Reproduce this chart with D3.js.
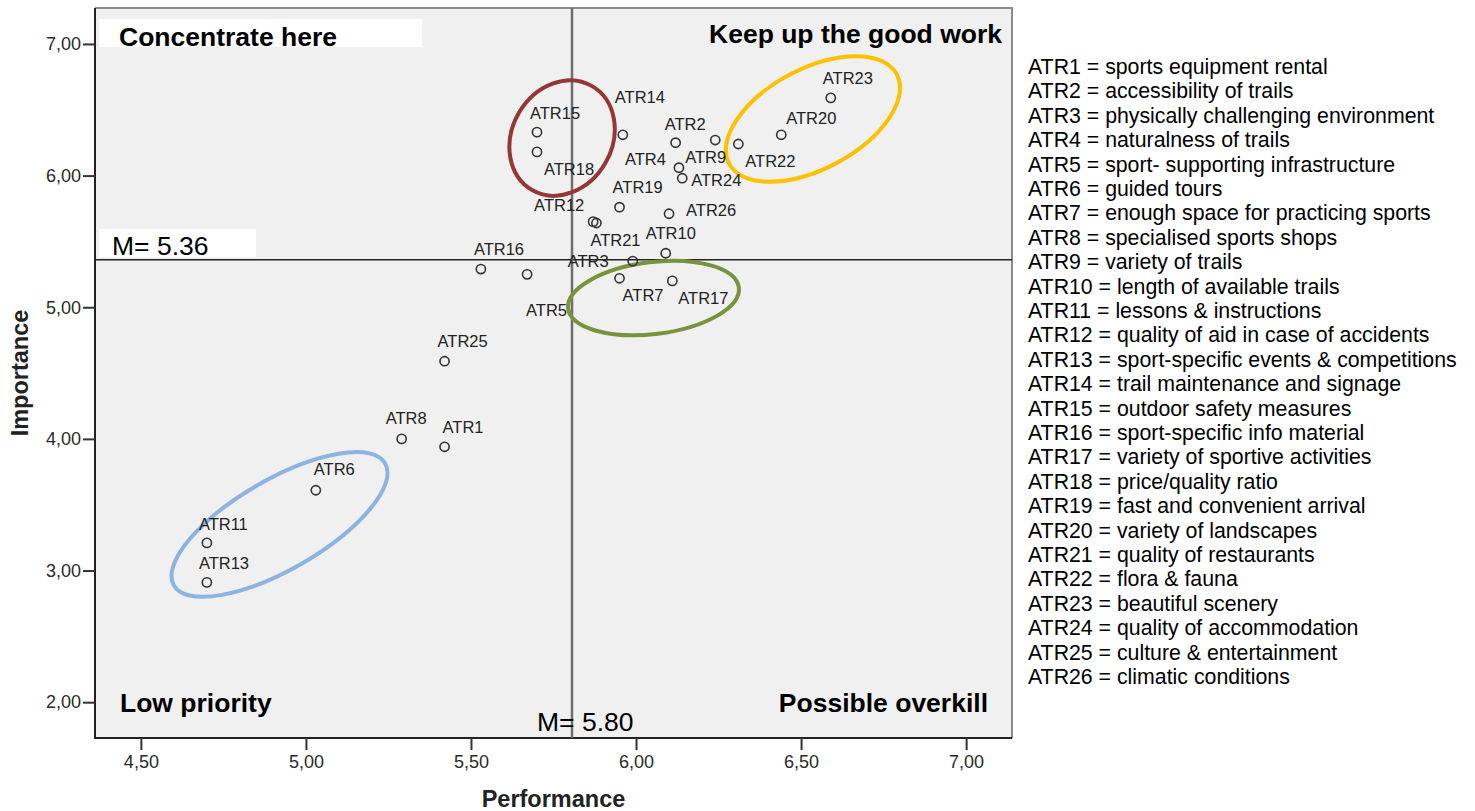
<!DOCTYPE html>
<html lang="en">
<head>
<meta charset="UTF-8">
<script src="https://d3js.org/d3.v7.min.js"></script>
<title>Importance-Performance Analysis</title>
<style>
  body { margin: 0; background: #fff; }
  svg text { font-family: "Liberation Sans", Arial, sans-serif; }
</style>
</head>
<body>
<div id="chart"></div>
<script>
// ---------------- data ----------------
const attributes = ["ATR1","ATR2","ATR3","ATR4","ATR5","ATR6","ATR7","ATR8","ATR9","ATR10","ATR11","ATR12","ATR13",
  "ATR14","ATR15","ATR16","ATR17","ATR18","ATR19","ATR20","ATR21","ATR22","ATR23","ATR24","ATR25","ATR26"];
const performance = [5.42, 6.12, 5.99, 6.13, 5.67, 5.03, 5.95, 5.29, 6.24, 6.09, 4.70, 5.87, 4.70,
  5.96, 5.70, 5.53, 6.11, 5.70, 5.95, 6.44, 5.88, 6.31, 6.59, 6.14, 5.42, 6.10];
const importance = [3.94, 6.25, 5.35, 6.06, 5.25, 3.61, 5.22, 4.00, 6.27, 5.41, 3.21, 5.65, 2.91,
  6.31, 6.33, 5.29, 5.20, 6.18, 5.76, 6.31, 5.64, 6.24, 6.59, 5.98, 4.59, 5.71];
const descriptions = ["sports equipment rental", "accessibility of trails", "physically challenging environment",
  "naturalness of trails", "sport- supporting infrastructure", "guided tours", "enough space for practicing sports",
  "specialised sports shops", "variety of trails", "length of available trails", "lessons & instructions",
  "quality of aid in case of accidents", "sport-specific events & competitions", "trail maintenance and signage",
  "outdoor safety measures", "sport-specific info material", "variety of sportive activities", "price/quality ratio",
  "fast and convenient arrival", "variety of landscapes", "quality of restaurants", "flora & fauna",
  "beautiful scenery", "quality of accommodation", "culture & entertainment", "climatic conditions"];
const meanPerformance = 5.80;
const meanImportance = 5.36;
const xTicks = [4.5, 5.0, 5.5, 6.0, 6.5, 7.0];
const yTicks = [2, 3, 4, 5, 6, 7];

// label placement next to each point (pixels: left of text, baseline)
const labelOffset = {
  ATR1: [-2, -14], ATR2: [-11, -13], ATR3: [-65, 6], ATR4: [-54, -3], ATR5: [-1, 42], ATR6: [-2, -15],
  ATR7: [3, 23], ATR8: [-16, -15], ATR9: [-30, 23], ATR10: [-20, -14], ATR11: [-8, -13], ATR12: [-59, -11],
  ATR13: [-8, -13], ATR14: [-8, -32], ATR15: [-7, -13], ATR16: [-7, -14], ATR17: [6, 23], ATR18: [7, 23],
  ATR19: [-7, -14], ATR20: [5, -11], ATR21: [-6, 23], ATR22: [7, 23], ATR23: [-8, -14], ATR24: [9, 8],
  ATR25: [-7, -14], ATR26: [17, 2]
};

// hand drawn group ellipses (centre in data units, radii in px)
const groups = [
  { color: "#953735", cx: 5.776, cy: 6.285, rx: 50, ry: 60, rot: 30 },
  { color: "#FFC000", cx: 6.536, cy: 6.43, rx: 95, ry: 50, rot: -28 },
  { color: "#77933C", cx: 6.053, cy: 5.07, rx: 86, ry: 36, rot: -7 },
  { color: "#8DB3E2", cx: 4.92, cy: 3.35, rx: 122, ry: 45, rot: -30 }
];

// ---------------- chart ----------------
const width = 1475, height = 811;
const plotL = 95, plotR = 1012, plotT = 8, plotB = 738;

const svg = d3.select("#chart").append("svg")
  .attr("width", width).attr("height", height);

const x = d3.scaleLinear().domain([4.361, 7.139]).range([plotL, plotR]);
const y = d3.scaleLinear().domain([1.728, 7.273]).range([plotB, plotT]);

// plot background
svg.append("rect")
  .attr("x", plotL).attr("y", plotT)
  .attr("width", plotR - plotL).attr("height", plotB - plotT)
  .attr("fill", "#f0f0f0");

// frame: grey top/right, dark left/bottom
svg.append("path")
  .attr("d", `M${plotL},${plotT}H${plotR}V${plotB}`)
  .attr("fill", "none").attr("stroke", "#8a8a8a").attr("stroke-width", 2);
svg.append("path")
  .attr("d", `M${plotL},${plotT}V${plotB}H${plotR}`)
  .attr("fill", "none").attr("stroke", "#222").attr("stroke-width", 2);

// axes
const fmt = d => d3.format(".2f")(d).replace(".", ",");
const xAxis = svg.append("g")
  .attr("transform", `translate(0,${plotB})`)
  .call(d3.axisBottom(x).tickValues(xTicks).tickFormat(fmt).tickSize(12).tickSizeOuter(0).tickPadding(5));
const yAxis = svg.append("g")
  .attr("transform", `translate(${plotL},0)`)
  .call(d3.axisLeft(y).tickValues(yTicks).tickFormat(fmt).tickSize(12).tickSizeOuter(0).tickPadding(2));
[xAxis, yAxis].forEach(g => {
  g.select(".domain").remove();
  g.selectAll(".tick line").attr("stroke", "#333").attr("stroke-width", 2);
  g.selectAll(".tick text").attr("fill", "#2a2a2a").style("font-size", "18px")
    .style("font-family", '"Liberation Sans", Arial, sans-serif');
});

// mean lines
svg.append("line")
  .attr("x1", plotL).attr("x2", plotR)
  .attr("y1", y(meanImportance)).attr("y2", y(meanImportance))
  .attr("stroke", "#222").attr("stroke-width", 1.5);
svg.append("line")
  .attr("x1", x(meanPerformance) + 2).attr("x2", x(meanPerformance) + 2)
  .attr("y1", plotT).attr("y2", plotB)
  .attr("stroke", "#6e6e6e").attr("stroke-width", 2.5);

// quadrant names
svg.append("rect").attr("x", 99).attr("y", 19).attr("width", 323).attr("height", 28).attr("fill", "#fff");
const quad = [
  { t: "Concentrate here", x: 119, y: 46, a: "start" },
  { t: "Keep up the good work", x: 1002, y: 43, a: "end" },
  { t: "Low priority", x: 120, y: 712, a: "start" },
  { t: "Possible overkill", x: 988, y: 712, a: "end" }
];
svg.selectAll(".quad").data(quad).enter().append("text")
  .attr("class", "quad")
  .attr("x", d => d.x).attr("y", d => d.y)
  .attr("text-anchor", d => d.a)
  .style("font-size", "26.5px").style("font-weight", "bold").attr("fill", "#000")
  .text(d => d.t);

// mean labels
svg.append("rect").attr("x", 99).attr("y", 229).attr("width", 157).attr("height", 28).attr("fill", "#fff");
svg.append("text").attr("x", 112).attr("y", 255)
  .style("font-size", "26.5px").attr("fill", "#000")
  .text("M= " + meanImportance.toFixed(2));
svg.append("text").attr("x", x(meanPerformance) - 33).attr("y", 731)
  .style("font-size", "26.5px").attr("fill", "#000")
  .text("M= " + meanPerformance.toFixed(2));

// group ellipses
svg.selectAll(".grp").data(groups).enter().append("ellipse")
  .attr("class", "grp")
  .attr("cx", 0).attr("cy", 0)
  .attr("rx", d => d.rx).attr("ry", d => d.ry)
  .attr("transform", d => `translate(${x(d.cx)},${y(d.cy)}) rotate(${d.rot})`)
  .attr("fill", "none").attr("stroke", d => d.color).attr("stroke-width", 4);

// points
const pts = attributes.map((a, i) => ({ id: a, p: performance[i], imp: importance[i] }));
svg.selectAll(".pt").data(pts).enter().append("circle")
  .attr("class", "pt")
  .attr("cx", d => x(d.p)).attr("cy", d => y(d.imp))
  .attr("r", 4.6)
  .attr("fill", "none").attr("stroke", "#333").attr("stroke-width", 1.6);

svg.selectAll(".lbl").data(pts).enter().append("text")
  .attr("class", "lbl")
  .attr("x", d => x(d.p) + labelOffset[d.id][0])
  .attr("y", d => y(d.imp) + labelOffset[d.id][1])
  .style("font-size", "16.5px").attr("fill", "#222")
  .text(d => d.id);

// axis titles
svg.append("text")
  .attr("x", (plotL + plotR) / 2).attr("y", 807)
  .attr("text-anchor", "middle")
  .style("font-size", "23.5px").style("font-weight", "bold").attr("fill", "#222")
  .text("Performance");
svg.append("text")
  .attr("transform", `translate(28,${(plotT + plotB) / 2}) rotate(-90)`)
  .attr("text-anchor", "middle")
  .style("font-size", "23.5px").style("font-weight", "bold").attr("fill", "#222")
  .text("Importance");

// legend of attribute names
svg.selectAll(".leg").data(attributes).enter().append("text")
  .attr("class", "leg")
  .attr("x", 1028).attr("y", (d, i) => 74 + i * 24.4)
  .style("font-size", "21.3px").attr("fill", "#000")
  .text((d, i) => d + " = " + descriptions[i]);
</script>
</body>
</html>
